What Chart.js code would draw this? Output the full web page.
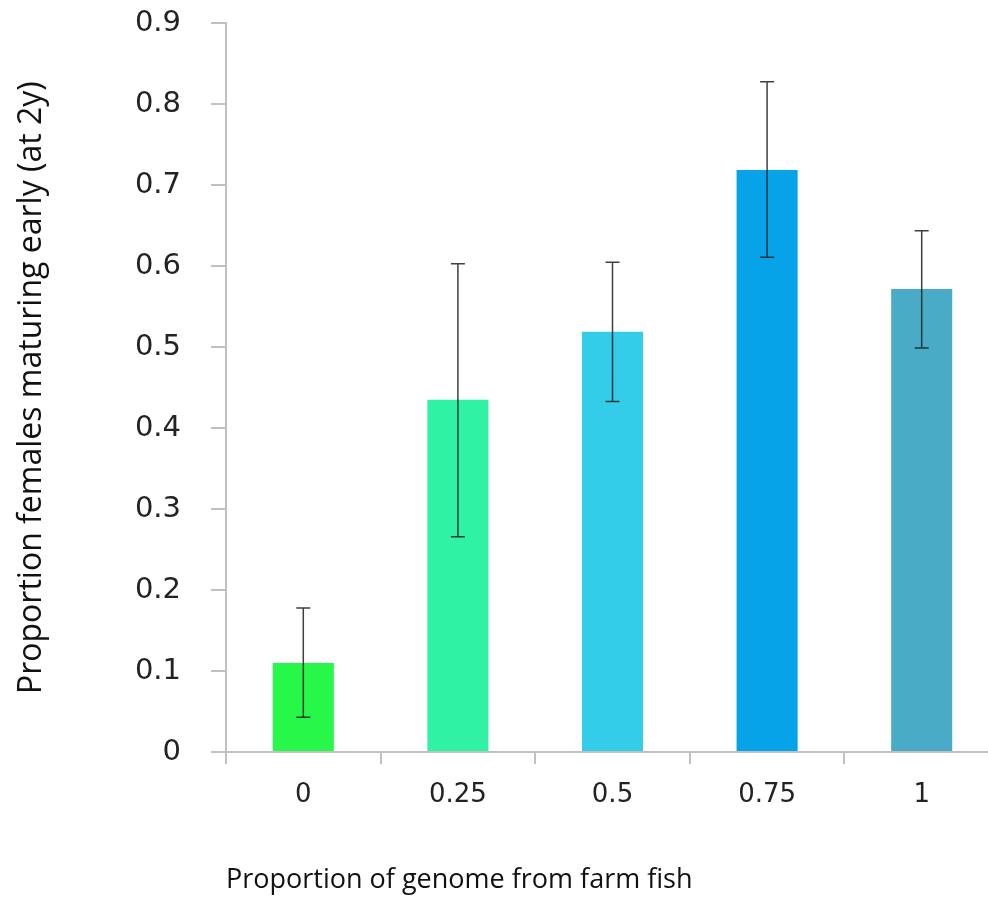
<!DOCTYPE html>
<html>
<head>
<meta charset="utf-8">
<script src="https://cdn.jsdelivr.net/npm/chart.js@4"></script>
<style>
    html, body { margin: 0; padding: 0; background: #fff; overflow: hidden; }
    /* canvas is a bit bigger than the window: the reference plot is cut off at the right */
    canvas { display: block; margin-top: -24px; }
</style>
</head>
<body>
<canvas id="chart" width="1000" height="921"></canvas>
<script>
// ======= Data =======
const categories = ['0', '0.25', '0.5', '0.75', '1'];
const proportions = [0.110, 0.435, 0.519, 0.719, 0.572];
const errLow = [0.043, 0.266, 0.433, 0.611, 0.499];
const errHigh = [0.178, 0.603, 0.605, 0.828, 0.644];
const barColors = ['#27F748', '#2FF2A4', '#33CDEA', '#06A3E8', '#4AABC6'];
const yTicks = [0, 0.1, 0.2, 0.3, 0.4, 0.5, 0.6, 0.7, 0.8, 0.9];

const AXIS_GREY = '#c0c0c0';

// ======= Error bar plugin (drawn through the chart's own scales) =======
const errorBars = {
    id: 'errorBars',
    afterDatasetsDraw(chart) {
        const ctx = chart.ctx;
        const x = chart.scales.x;
        const y = chart.scales.y;
        ctx.save();
        ctx.strokeStyle = 'rgba(30, 30, 30, 0.85)';
        ctx.lineWidth = 1.5;
        categories.forEach((c, i) => {
            const cx = x.getPixelForValue(i);
            const top = y.getPixelForValue(errHigh[i]);
            const bot = y.getPixelForValue(errLow[i]);
            ctx.beginPath();
            ctx.moveTo(cx, top); ctx.lineTo(cx, bot);
            ctx.moveTo(cx - 7, top); ctx.lineTo(cx + 7, top);
            ctx.moveTo(cx - 7, bot); ctx.lineTo(cx + 7, bot);
            ctx.stroke();
        });
        ctx.restore();
    }
};

new Chart(document.getElementById('chart'), {
    type: 'bar',
    data: {
        labels: categories,
        datasets: [{
            data: proportions,
            backgroundColor: barColors,
            borderWidth: 0,
            barPercentage: 0.79,
            categoryPercentage: 0.5
        }]
    },
    options: {
        responsive: false,
        animation: false,
        layout: { padding: { top: 0, right: 1, left: 0, bottom: 0 } },
        plugins: { legend: { display: false }, tooltip: { enabled: false } },
        scales: {
            x: {
                offset: true,
                grid: { offset: true, drawOnChartArea: false, drawTicks: true, tickLength: 12, color: AXIS_GREY, lineWidth: 2 },
                border: { color: AXIS_GREY, width: 2 },
                ticks: { color: '#222', font: { family: 'DejaVu Sans', size: 26 }, padding: 16 },
                title: {
                    display: true,
                    text: 'Proportion of genome from farm fish',
                    align: 'start',
                    color: '#111',
                    font: { family: 'Open Sans', size: 27 },
                    padding: { top: 38, bottom: 0 }
                },
                afterFit: (scale) => { scale.height = 145; }
            },
            y: {
                min: 0,
                max: 0.9,
                afterBuildTicks: (scale) => { scale.ticks = yTicks.map(v => ({ value: v })); },
                grid: { drawOnChartArea: false, drawTicks: true, tickLength: 15, color: AXIS_GREY, lineWidth: 2 },
                border: { color: AXIS_GREY, width: 2 },
                ticks: {
                    color: '#222',
                    font: { family: 'DejaVu Sans', size: 29 },
                    padding: 30,
                    callback: (v) => String(Math.round(v * 10) / 10)
                },
                title: {
                    display: true,
                    text: 'Proportion females maturing early (at 2y)',
                    color: '#111',
                    font: { family: 'Open Sans', size: 32 },
                    padding: { top: 13, bottom: 20 }
                },
                afterFit: (scale) => { scale.width = 226; }
            }
        }
    },
    plugins: [errorBars]
});
</script>
</body>
</html>
